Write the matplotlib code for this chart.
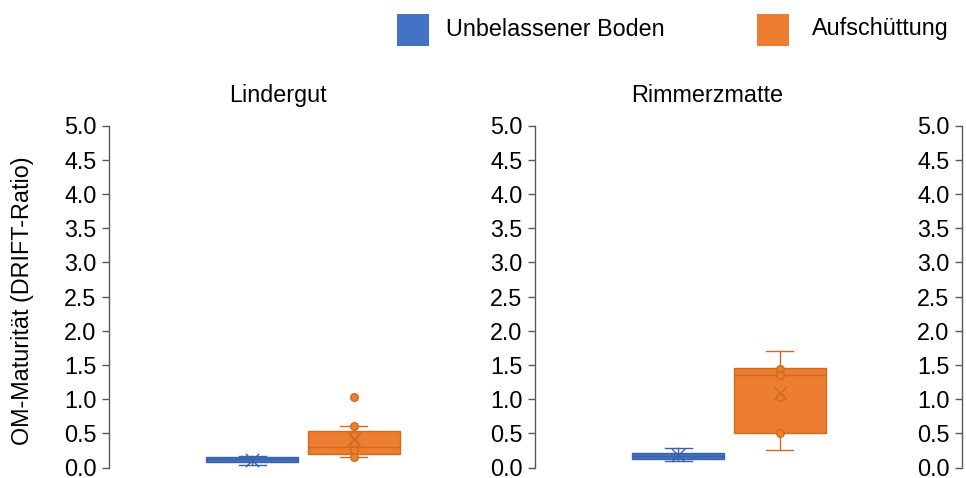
import matplotlib.pyplot as plt
from matplotlib.patches import Rectangle

plt.rcParams['font.family'] = ['Liberation Sans', 'DejaVu Sans']

# sites and groups
sites = ["Lindergut", "Rimmerzmatte"]
groups = ["Unbelassener Boden", "Aufschüttung"]
colors = ["#4472C4", "#ED7D31"]
edge_colors = ["#3A62AA", "#D2691E"]

# box statistics (DRIFT ratio)
whislo = [[0.04, 0.16], [0.10, 0.25]]
q1 = [[0.08, 0.20], [0.13, 0.50]]
med = [[0.12, 0.295], [0.17, 1.35]]
q3 = [[0.15, 0.535], [0.215, 1.455]]
whishi = [[0.17, 0.61], [0.285, 1.71]]
means = [[0.11, 0.41], [0.18, 1.09]]
fliers = [[[], [1.03]], [[], []]]
# inner points shown for the Aufschüttung series
inner_points = [[[], [0.61, 0.48, 0.34, 0.25, 0.16]],
                [[], [1.44, 1.35, 1.035, 0.51]]]

yticks = [0.0, 0.5, 1.0, 1.5, 2.0, 2.5, 3.0, 3.5, 4.0, 4.5, 5.0]

W, H = 966, 478
fig = plt.figure(figsize=(W / 100, H / 100), dpi=100)

ax_w = 388 / W
ax_b = (H - 467.5) / H
ax_h = 342 / H
lefts = [109 / W, 535 / W, 962 / W]

positions = [0.369, 0.631]
box_w = 0.237
cap_w = 0.07
fs = 16.8
spine_col = "#595959"


def style_axis(ax):
    ax.set_xlim(0, 1)
    ax.set_ylim(0, 5)
    ax.set_yticks(yticks)
    ax.set_yticklabels([f"{t:.1f}" for t in yticks], fontsize=fs)
    ax.set_xticks([])
    for s in ["top", "right", "bottom"]:
        ax.spines[s].set_visible(False)
    ax.spines["left"].set_color(spine_col)
    ax.spines["left"].set_linewidth(1.0)
    ax.tick_params(axis="y", length=5, width=1.0, color=spine_col, pad=4)
    ax.patch.set_alpha(0)


axes = []
for i, left in enumerate(lefts):
    ax = fig.add_axes([left, ax_b, ax_w, ax_h])
    style_axis(ax)
    axes.append(ax)

for si, site in enumerate(sites):
    ax = axes[si]
    for gi in range(len(groups)):
        stats = [dict(whislo=whislo[si][gi], q1=q1[si][gi], med=med[si][gi],
                      q3=q3[si][gi], whishi=whishi[si][gi],
                      mean=means[si][gi], fliers=fliers[si][gi])]
        c = colors[gi]
        ec = edge_colors[gi]
        ax.bxp(stats, positions=[positions[gi]], widths=box_w,
               capwidths=cap_w, patch_artist=True, showfliers=False,
               showmeans=False,
               boxprops=dict(facecolor=c, edgecolor=ec, linewidth=1.0),
               medianprops=dict(color=ec, linewidth=1.0),
               whiskerprops=dict(color=ec, linewidth=1.0),
               capprops=dict(color=ec, linewidth=1.0),
               manage_ticks=False)
        pts = inner_points[si][gi] + fliers[si][gi]
        if pts:
            ax.scatter([positions[gi]] * len(pts), pts, s=30,
                       facecolor=c, edgecolor=ec, linewidth=1.0, zorder=4)
        ax.scatter([positions[gi]], [means[si][gi]], marker="x", s=90,
                   color=ec, linewidth=1.0, zorder=5)

# site titles
title_x = [278 / W, 707 / W]
for si, site in enumerate(sites):
    fig.text(title_x[si], (H - 102) / H, site, fontsize=fs,
             ha="center", va="baseline")

# y label
fig.text(22.5 / W, (H - 301) / H, "OM-Maturität (DRIFT-Ratio)",
         fontsize=fs, rotation=90, ha="center", va="center")

# legend
sq_x = [397, 757]
txt_x = [446, 812]
for gi, g in enumerate(groups):
    fig.patches.append(Rectangle((sq_x[gi] / W, (H - 46) / H), 32 / W, 32 / H,
                                 transform=fig.transFigure,
                                 facecolor=colors[gi], edgecolor="none"))
    fig.text(txt_x[gi] / W, (H - 29) / H, g, fontsize=fs,
             ha="left", va="center")

fig.savefig("out.png", dpi=100)
